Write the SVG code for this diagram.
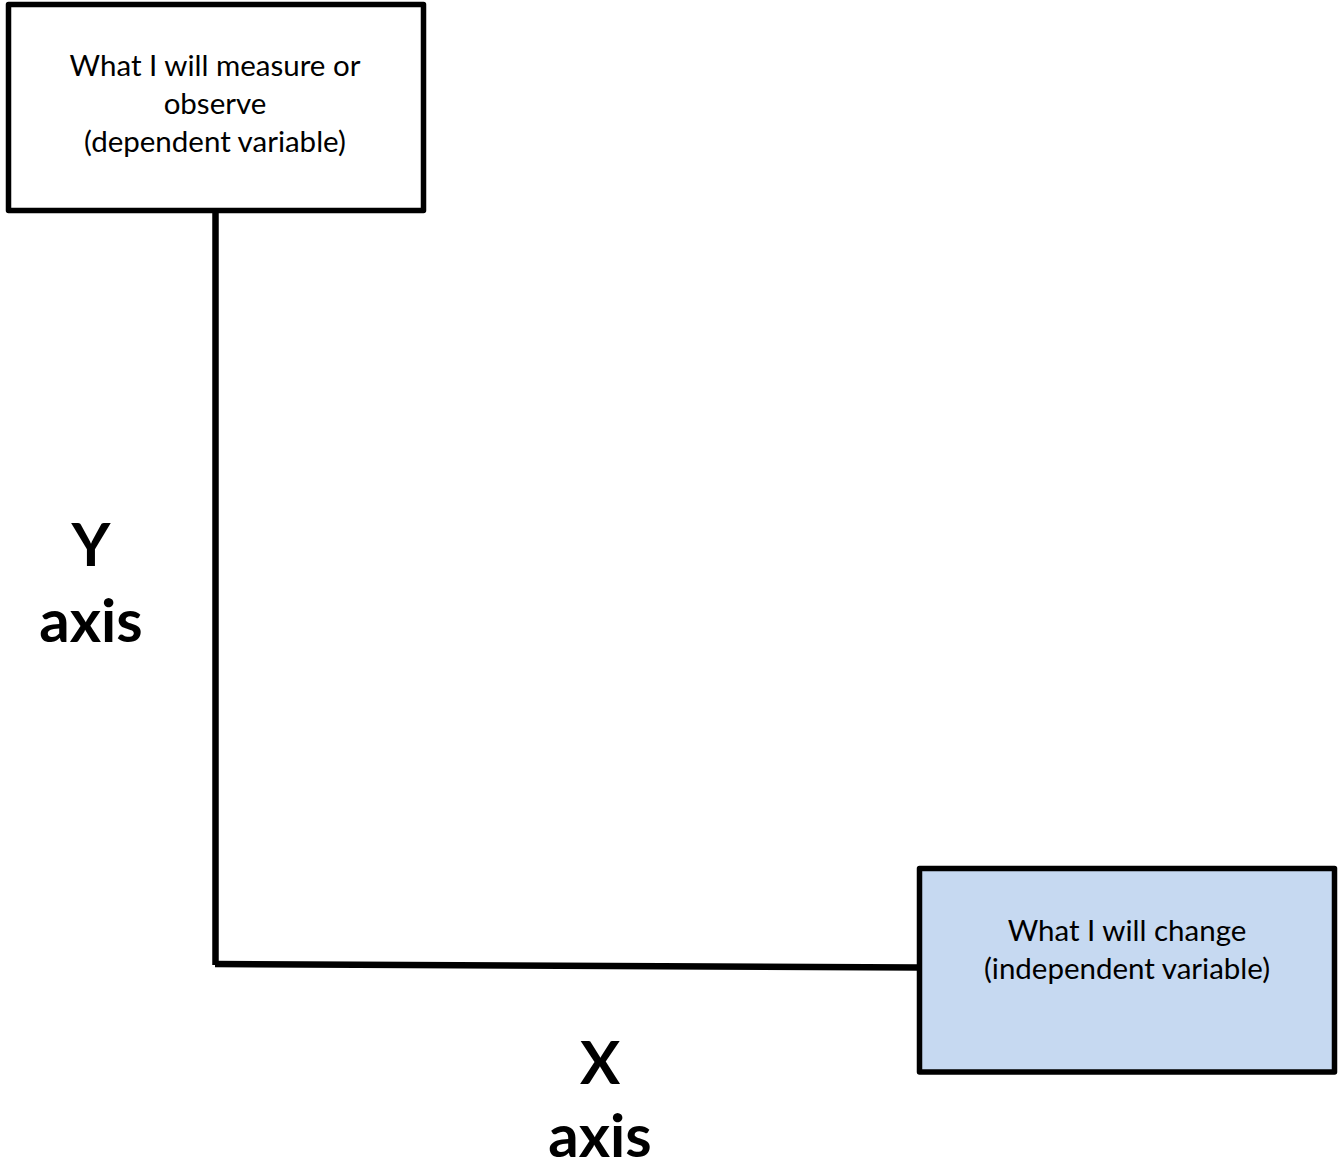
<svg xmlns="http://www.w3.org/2000/svg" width="1340" height="1172" viewBox="0 0 1340 1172">
<style>
.box{stroke:#000;stroke-width:5.5;stroke-linejoin:round}
.t{font-family:Lato,"Liberation Sans",sans-serif;font-size:29.5px;fill:#000;text-anchor:middle}
.b{font-family:Lato,"Liberation Sans",sans-serif;font-size:60px;font-weight:bold;fill:#000;text-anchor:middle}
.c{stroke:#000;stroke-width:6.5;fill:none}
</style>
<rect width="1340" height="1172" fill="#fff"/>
<g id="connectors">
<line class="c" x1="215.5" y1="212" x2="215.5" y2="965"/>
<line class="c" x1="215" y1="964" x2="919" y2="967.5"/>
</g>
<g id="dependent">
<rect class="box" x="8.5" y="4.5" width="415" height="206" fill="#fff"/>
<text class="t" x="215" y="76">What I will measure or</text>
<text class="t" x="215" y="114">observe</text>
<text class="t" x="215" y="152">(dependent variable)</text>
</g>
<g id="independent">
<rect class="box" x="919.5" y="868.5" width="415" height="203.5" fill="#C6D9F1"/>
<text class="t" x="1127" y="941">What I will change</text>
<text class="t" x="1127" y="979">(independent variable)</text>
</g>
<g id="y-label">
<text class="b" x="91" y="566">Y</text>
<text class="b" x="91" y="642">axis</text>
</g>
<g id="x-label">
<text class="b" x="600" y="1084">X</text>
<text class="b" x="600" y="1157">axis</text>
</g>
</svg>
